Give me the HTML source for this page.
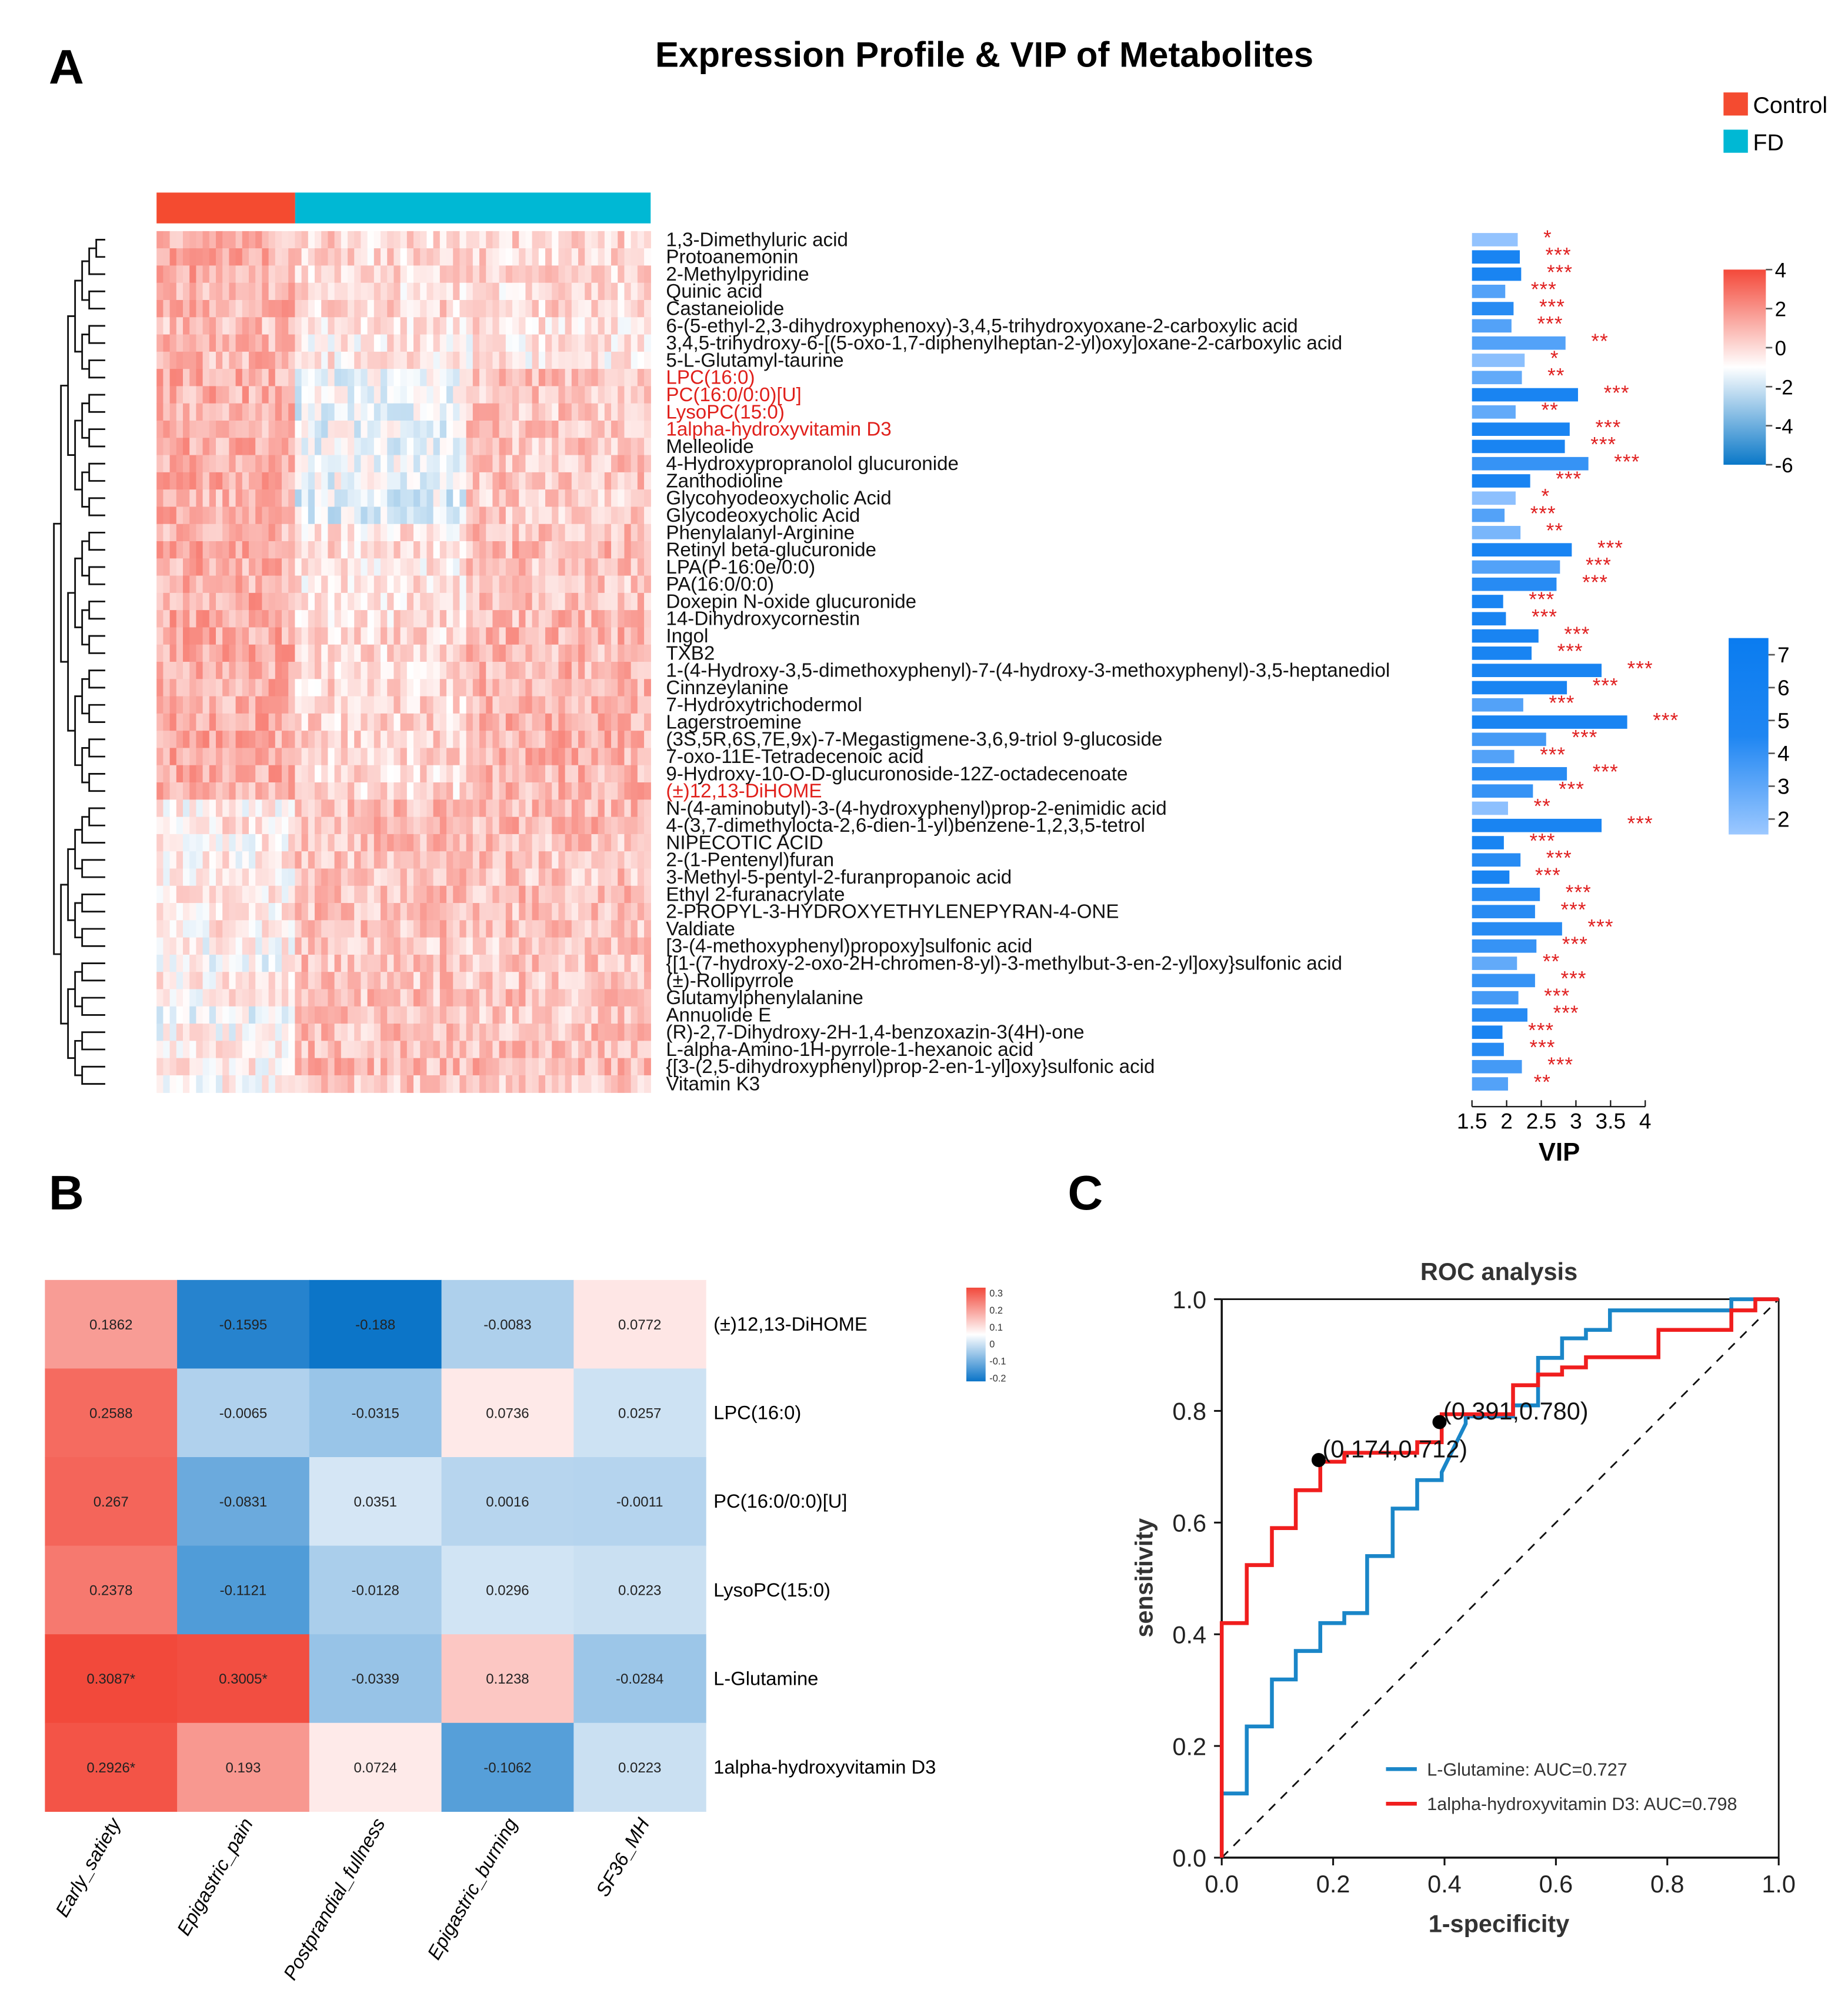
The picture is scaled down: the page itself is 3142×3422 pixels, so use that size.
<!DOCTYPE html>
<html><head><meta charset="utf-8"><style>
html,body{margin:0;padding:0;background:#fff;}
svg{display:block;font-family:"Liberation Sans",Arial,sans-serif;}
</style></head><body>
<svg id="fig" xmlns="http://www.w3.org/2000/svg" width="3142" height="3422" viewBox="0 0 1440 1568" preserveAspectRatio="none">
<defs>
<linearGradient id="heatGrad" x1="0" y1="0" x2="0" y2="1">
<stop offset="0" stop-color="#f4493a"/><stop offset="0.5" stop-color="#ffffff"/><stop offset="1" stop-color="#0a78c8"/>
</linearGradient>
<linearGradient id="vipGrad" x1="0" y1="0" x2="0" y2="1">
<stop offset="0" stop-color="#0a7cf0"/><stop offset="0.5" stop-color="#1f86f2"/><stop offset="1" stop-color="#9cc8ff"/>
</linearGradient>
<linearGradient id="corGrad" x1="0" y1="0" x2="0" y2="1">
<stop offset="0" stop-color="#f2493c"/><stop offset="0.5" stop-color="#ffffff"/><stop offset="1" stop-color="#0a74c8"/>
</linearGradient>
</defs>
<text x="38" y="65" font-size="38" font-weight="bold">A</text>
<text x="767" y="52" font-size="27.5" font-weight="bold" text-anchor="middle">Expression Profile &amp; VIP of Metabolites</text>
<rect x="1343" y="72" width="19" height="18" fill="#f44b30"/>
<text x="1366" y="88" font-size="18">Control</text>
<rect x="1343" y="101" width="19" height="18" fill="#00b8d4"/>
<text x="1366" y="117" font-size="18">FD</text>
<rect x="122" y="150" width="108" height="24" fill="#f44b30"/>
<rect x="230" y="150" width="277" height="24" fill="#00b8d4"/>
<g id="heat"></g>
<g id="dendro" stroke="#111" stroke-width="1.3" fill="none"></g>
<g id="labels"></g>
<g id="vip"></g>
<rect x="1343" y="210" width="33" height="152" fill="url(#heatGrad)"/>
<g id="heatCbTicks"></g>
<rect x="1347" y="497" width="31" height="153" fill="url(#vipGrad)"/>
<g id="vipCbTicks"></g>

<text x="38" y="942" font-size="38" font-weight="bold">B</text>
<g id="cor"></g>
<rect x="753" y="1003" width="15" height="73" fill="url(#corGrad)"/>
<g id="corCb"></g>

<text x="832" y="942" font-size="38" font-weight="bold">C</text>
<g id="roc"></g>
</svg>
<script>
// ===== Panel A data =====
const metabolites = ["1,3-Dimethyluric acid","Protoanemonin","2-Methylpyridine","Quinic acid","Castaneiolide","6-(5-ethyl-2,3-dihydroxyphenoxy)-3,4,5-trihydroxyoxane-2-carboxylic acid","3,4,5-trihydroxy-6-[(5-oxo-1,7-diphenylheptan-2-yl)oxy]oxane-2-carboxylic acid","5-L-Glutamyl-taurine","LPC(16:0)","PC(16:0/0:0)[U]","LysoPC(15:0)","1alpha-hydroxyvitamin D3","Melleolide","4-Hydroxypropranolol glucuronide","Zanthodioline","Glycohyodeoxycholic Acid","Glycodeoxycholic Acid","Phenylalanyl-Arginine","Retinyl beta-glucuronide","LPA(P-16:0e/0:0)","PA(16:0/0:0)","Doxepin N-oxide glucuronide","14-Dihydroxycornestin","Ingol","TXB2","1-(4-Hydroxy-3,5-dimethoxyphenyl)-7-(4-hydroxy-3-methoxyphenyl)-3,5-heptanediol","Cinnzeylanine","7-Hydroxytrichodermol","Lagerstroemine","(3S,5R,6S,7E,9x)-7-Megastigmene-3,6,9-triol 9-glucoside","7-oxo-11E-Tetradecenoic acid","9-Hydroxy-10-O-D-glucuronoside-12Z-octadecenoate","(±)12,13-DiHOME","N-(4-aminobutyl)-3-(4-hydroxyphenyl)prop-2-enimidic acid","4-(3,7-dimethylocta-2,6-dien-1-yl)benzene-1,2,3,5-tetrol","NIPECOTIC ACID","2-(1-Pentenyl)furan","3-Methyl-5-pentyl-2-furanpropanoic acid","Ethyl 2-furanacrylate","2-PROPYL-3-HYDROXYETHYLENEPYRAN-4-ONE","Valdiate","[3-(4-methoxyphenyl)propoxy]sulfonic acid","{[1-(7-hydroxy-2-oxo-2H-chromen-8-yl)-3-methylbut-3-en-2-yl]oxy}sulfonic acid","(±)-Rollipyrrole","Glutamylphenylalanine","Annuolide E","(R)-2,7-Dihydroxy-2H-1,4-benzoxazin-3(4H)-one","L-alpha-Amino-1H-pyrrole-1-hexanoic acid","{[3-(2,5-dihydroxyphenyl)prop-2-en-1-yl]oxy}sulfonic acid","Vitamin K3"];
const highlighted = ["LPC(16:0)","PC(16:0/0:0)[U]","LysoPC(15:0)","1alpha-hydroxyvitamin D3","(±)12,13-DiHOME"];
const vipValues = [2.16,2.19,2.21,1.98,2.10,2.07,2.85,2.26,2.22,3.03,2.13,2.91,2.84,3.18,2.34,2.13,1.97,2.20,2.94,2.77,2.72,1.95,1.99,2.46,2.36,3.37,2.87,2.24,3.74,2.57,2.11,2.87,2.38,2.02,3.37,1.96,2.20,2.04,2.48,2.41,2.80,2.43,2.15,2.41,2.17,2.30,1.94,1.96,2.22,2.02];
const vipColorVal = [2.3,6.5,6.5,4.5,6,4.5,4.5,2.6,4,6.5,4,6.5,6.5,5.5,6.5,2.5,4.5,3.2,6.5,4.5,6,6.5,6.5,6.5,6.5,6.5,6.5,4.5,6.5,5,4.5,6,5.5,2.5,6.5,6.5,6,6.5,6,6,6,5.5,4,5.5,5,6,6.5,6,5,4.5];
const sigStars = ["*","***","***","***","***","***","**","*","**","***","**","***","***","***","***","*","***","**","***","***","***","***","***","***","***","***","***","***","***","***","***","***","***","**","***","***","***","***","***","***","***","***","**","***","***","***","***","***","***","**"];
const ctrlMean = [1.0,1.2,1.3,1.0,1.1,0.8,1.0,0.9,1.2,1.2,1.1,1.0,1.2,1.2,1.3,1.0,1.1,0.9,1.3,1.2,1.2,1.3,1.3,1.3,1.2,1.3,1.2,1.2,1.3,1.3,1.3,1.3,1.2,-0.6,-0.3,-0.6,-0.5,-0.6,-0.5,-0.5,-0.4,-0.8,-1.0,-0.6,-0.5,-1.1,-0.8,-0.6,-0.5,-0.8];
const fdMean = [0.2,0.1,0.1,0.0,0.1,-0.1,-0.4,-0.4,-0.2,-0.3,-0.4,-0.3,-0.4,-0.3,-0.2,-0.6,-0.5,-0.2,0.0,-0.3,-0.3,-0.2,0.0,0.1,0.0,0.1,0.1,0.1,0.2,0.2,0.1,0.1,0.1,0.8,0.9,0.7,0.6,0.6,0.8,0.7,0.7,0.5,0.6,0.6,0.7,0.6,0.7,0.8,0.9,0.6];
const heatTicks = [4,2,0,-2,-4,-6];
const vipTicks = [1.5,2,2.5,3,3.5,4];
const vipCbTicks = [7,6,5,4,3,2];
const nCtrl = 21, nFD = 54;

// ===== Panel B data =====
const corRows = ["(±)12,13-DiHOME","LPC(16:0)","PC(16:0/0:0)[U]","LysoPC(15:0)","L-Glutamine","1alpha-hydroxyvitamin D3"];
const corCols = ["Early_satiety","Epigastric_pain","Postprandial_fullness","Epigastric_burning","SF36_MH"];
const corVals = [[0.1862,-0.1595,-0.188,-0.0083,0.0772],[0.2588,-0.0065,-0.0315,0.0736,0.0257],[0.267,-0.0831,0.0351,0.0016,-0.0011],[0.2378,-0.1121,-0.0128,0.0296,0.0223],[0.3087,0.3005,-0.0339,0.1238,-0.0284],[0.2926,0.193,0.0724,-0.1062,0.0223]];
const corSig = [["","","","",""],["","","","",""],["","","","",""],["","","","",""],["*","*","","",""],["*","","","",""]];
const corTicks = ["0.3","0.2","0.1","0","-0.1","-0.2"];

// ===== Panel C data =====
const redFpr = [0,0,0.045,0.045,0.09,0.09,0.133,0.133,0.177,0.177,0.22,0.22,0.351,0.351,0.395,0.395,0.523,0.523,0.568,0.568,0.611,0.611,0.654,0.654,0.784,0.784,0.915,0.915,0.958,0.958,1];
const redTpr = [0,0.42,0.42,0.524,0.524,0.59,0.59,0.658,0.658,0.709,0.709,0.725,0.725,0.744,0.744,0.794,0.794,0.846,0.846,0.865,0.865,0.878,0.878,0.896,0.896,0.945,0.945,0.98,0.98,1,1];
const blueFpr = [0,0,0.045,0.045,0.09,0.09,0.133,0.133,0.177,0.177,0.22,0.22,0.261,0.261,0.307,0.307,0.351,0.351,0.395,0.395,0.438,0.438,0.523,0.523,0.568,0.568,0.611,0.611,0.654,0.654,0.697,0.697,0.915,0.915,1];
const blueTpr = [0,0.115,0.115,0.235,0.235,0.319,0.319,0.37,0.37,0.42,0.42,0.438,0.438,0.54,0.54,0.625,0.625,0.676,0.676,0.69,0.777,0.79,0.79,0.81,0.81,0.895,0.895,0.93,0.93,0.945,0.945,0.98,0.98,1,1];
const cutFpr = [0.174,0.391];
const cutTpr = [0.712,0.780];
const cutLabels = ["(0.174,0.712)","(0.391,0.780)"];
const rocTicks = [0,0.2,0.4,0.6,0.8,1.0];

const NS="http://www.w3.org/2000/svg";
function mk(tag, attrs, parent){const e=document.createElementNS(NS,tag);for(const k in attrs)e.setAttribute(k,attrs[k]);parent.appendChild(e);return e;}
function lerp(a,b,t){return Math.round(a+(b-a)*t);}
function mix(c1,c2,t){t=Math.max(0,Math.min(1,t));return `rgb(${lerp(c1[0],c2[0],t)},${lerp(c1[1],c2[1],t)},${lerp(c1[2],c2[2],t)})`;}

// ===== Panel A =====
const rowTop=180, rowH=13.42, heatX=122, heatW=385;
const rowY = i => rowTop + i*rowH;
function heatColor(v){ if(v>=-1) return mix([255,255,255],[244,73,58],(v+1)/5); return mix([255,255,255],[10,120,200],(-1-v)/5); }
function hash(i,j){let h=(i*374761393+j*668265263)^0x5bd1e995;h=(h^(h>>>13))*1274126177;h=h^(h>>>16);return ((h>>>0)%1000)/1000;}
const heat=document.getElementById('heat');
const nCols=nCtrl+nFD, colW=heatW/nCols;
for(let i=0;i<metabolites.length;i++){
  for(let j=0;j<nCols;j++){
    let base = j<nCtrl? ctrlMean[i] : fdMean[i];
    if(j>=nCtrl && i>=8 && i<33 && j>=nCtrl+26) base += 0.9;
    if(j>=nCtrl && i>=8 && i<17 && j<nCtrl+26) base -= 1.0;
    const v = base + (hash(i,j)-0.5)*2.4;
    const r=mk('rect',{x:(heatX+j*colW).toFixed(2),y:rowY(i).toFixed(2),width:(colW+0.3).toFixed(2),height:(rowH+0.3).toFixed(2),fill:heatColor(v)},heat);
    
    
  }
}
const lab=document.getElementById('labels');
metabolites.forEach((m,i)=>{
  const t=mk('text',{x:519,y:(rowY(i)+rowH/2+5).toFixed(2),'font-size':15.2,fill:highlighted.includes(m)?'#e0201b':'#111'},lab);
  t.textContent=m;
  
  
});
const dg=document.getElementById('dendro');
function build(a,b,depth){
  if(a===b){return rowY(a)+rowH/2;}
  const m = (a===0&&b===49)?32:Math.floor((a+b)/2);
  const y1=build(a,m,depth+1), y2=build(m+1,b,depth+1);
  const x = 42 + depth*5.5;
  const xc = (m===a)?82:42+(depth+1)*5.5;
  const xd = (b===m+1)?82:42+(depth+1)*5.5;
  const p=mk('path',{d:`M${xc},${y1}H${x}V${y2}H${xd}`},dg);
  
  
  return (y1+y2)/2;
}
build(0,49,0);
const vipG=document.getElementById('vip');
const vx = v => 1147 + (v-1.5)*54;
function vipColor(c){return mix([156,200,255],[10,124,240],(c-2)/5);}
vipValues.forEach((v,i)=>{
  const y=rowY(i)+rowH/2;
  const r=mk('rect',{x:vx(1.5),y:(y-5.2).toFixed(2),width:(vx(v)-vx(1.5)).toFixed(2),height:10.4,fill:vipColor(vipColorVal[i])},vipG);
  
  
  const s=mk('text',{x:(vx(v)+20).toFixed(2),y:(y+4).toFixed(2),'font-size':16,fill:'#e02020','letter-spacing':'0.5'},vipG);
  s.textContent=sigStars[i];
  
  
});
const ax=mk('line',{x1:vx(1.5),x2:vx(4),y1:862,y2:862,stroke:'#111','stroke-width':1},vipG);


vipTicks.forEach(t=>{
  const l=mk('line',{x1:vx(t),x2:vx(t),y1:857,y2:862,stroke:'#111','stroke-width':1},vipG);
  
  
  const tx=mk('text',{x:vx(t),y:879,'font-size':17,'text-anchor':'middle'},vipG);
  tx.textContent=String(t);
  
  
});
const vt=mk('text',{x:1215,y:904,'font-size':20,'font-weight':'bold','text-anchor':'middle'},vipG);
vt.textContent='VIP';


const hcb=document.getElementById('heatCbTicks');
heatTicks.forEach(t=>{
  const y=210+(4-t)/10*152;
  const l=mk('line',{x1:1376,x2:1381,y1:y,y2:y,stroke:'#555','stroke-width':1.2},hcb);
  
  
  const tx=mk('text',{x:1383,y:y+6,'font-size':16},hcb);
  tx.textContent=String(t);
  
  
});
const vcb=document.getElementById('vipCbTicks');
vipCbTicks.forEach(t=>{
  const y=510+(7-t)*25.6;
  const l=mk('line',{x1:1378,x2:1383,y1:y,y2:y,stroke:'#555','stroke-width':1.2},vcb);
  
  
  const tx=mk('text',{x:1385,y:y+6,'font-size':17},vcb);
  tx.textContent=String(t);
  
  
});

// ===== Panel B =====
const cor=document.getElementById('cor');
const cx0=35, cy0=997, cw=103, ch=69;
function corColor(v){ const w=0.06; if(v>=w) return mix([255,242,242],[242,72,58],(v-w)/0.25); return mix([236,243,250],[10,116,200],(w-v)/0.25); }
corVals.forEach((row,i)=>{
  row.forEach((v,j)=>{
    const r=mk('rect',{x:cx0+j*cw,y:cy0+i*ch,width:cw+0.3,height:ch+0.3,fill:corColor(v)},cor);
    
    
    const t=mk('text',{x:cx0+j*cw+cw/2,y:cy0+i*ch+ch/2+4,'font-size':11,'text-anchor':'middle',fill:'#222'},cor);
    t.textContent=String(v)+corSig[i][j];
    
    
  });
  const l=mk('text',{x:556,y:cy0+i*ch+ch/2+5,'font-size':15},cor);
  l.textContent=corRows[i];
  
  
});
corCols.forEach((c,j)=>{
  const x=cx0+j*cw+cw/2+8, y=1420;
  const t=mk('text',{x:x,y:y,'font-size':15,'font-style':'italic','text-anchor':'end',transform:`rotate(-60 ${x} ${y})`},cor);
  t.textContent=c;
  
  
});
const ccb=document.getElementById('corCb');
corTicks.forEach((t,i)=>{
  const y=1007+i*13.2;
  const tx=mk('text',{x:771,y:y+3,'font-size':7.5,fill:'#333'},ccb);
  tx.textContent=t;
  
  
});

// ===== Panel C =====
const roc=document.getElementById('roc');
const X = f => 952 + f*434, Y = s => 1447 - s*435;
const frame=mk('path',{d:`M${X(0)},${Y(1)}H${X(1)}V${Y(0)}`,stroke:'#111','stroke-width':1.3,fill:'none'},roc);


const axes=mk('path',{d:`M${X(0)},${Y(1)}V${Y(0)}H${X(1)}`,stroke:'#111','stroke-width':1.6,fill:'none'},roc);


rocTicks.forEach(t=>{
  const l1=mk('line',{x1:X(0)-6,x2:X(0),y1:Y(t),y2:Y(t),stroke:'#111','stroke-width':1.4},roc);
  
  
  const ty=mk('text',{x:X(0)-12,y:Y(t)+7,'font-size':19,'text-anchor':'end',fill:'#222'},roc);
  ty.textContent=t.toFixed(1);
  
  
  const l2=mk('line',{x1:X(t),x2:X(t),y1:Y(0),y2:Y(0)+6,stroke:'#111','stroke-width':1.4},roc);
  
  
  const tx=mk('text',{x:X(t),y:Y(0)+27,'font-size':19,'text-anchor':'middle',fill:'#222'},roc);
  tx.textContent=t.toFixed(1);
  
  
});
const diag=mk('line',{x1:X(0),y1:Y(0),x2:X(1),y2:Y(1),stroke:'#111','stroke-width':1.3,'stroke-dasharray':'7,6'},roc);


function pathOf(fx,ty){return fx.map((f,i)=>(i?'L':'M')+X(f).toFixed(1)+','+Y(ty[i]).toFixed(1)).join('');}
const bl=mk('path',{d:pathOf(blueFpr,blueTpr),stroke:'#1a86c8','stroke-width':3,fill:'none'},roc);


const rl=mk('path',{d:pathOf(redFpr,redTpr),stroke:'#f01e1e','stroke-width':3,fill:'none'},roc);


cutFpr.forEach((f,i)=>{
  const c=mk('circle',{cx:X(f),cy:Y(cutTpr[i]),r:5.5,fill:'#000'},roc);
  
  
  const t=mk('text',{x:X(f)+3,y:Y(cutTpr[i])-2,'font-size':19,fill:'#111'},roc);
  t.textContent=cutLabels[i];
  
  
});
const title=mk('text',{x:1168,y:997,'font-size':19,'font-weight':'bold','text-anchor':'middle',fill:'#333'},roc);
title.textContent='ROC analysis';


const yt=mk('text',{x:898,y:1229,'font-size':19,'font-weight':'bold','text-anchor':'middle',fill:'#333',transform:'rotate(-90 898 1229)'},roc);
yt.textContent='sensitivity';


const xt=mk('text',{x:1168,y:1505,'font-size':19,'font-weight':'bold','text-anchor':'middle',fill:'#333'},roc);
xt.textContent='1-specificity';


[['#1a86c8','L-Glutamine: AUC=0.727',1378],['#f01e1e','1alpha-hydroxyvitamin D3: AUC=0.798',1405]].forEach(L=>{
  const l=mk('line',{x1:1080,x2:1104,y1:L[2],y2:L[2],stroke:L[0],'stroke-width':3},roc);
  
  
  const t=mk('text',{x:1112,y:L[2]+5,'font-size':14,fill:'#333'},roc);
  t.textContent=L[1];
  
  
});
</script>
</body></html>
